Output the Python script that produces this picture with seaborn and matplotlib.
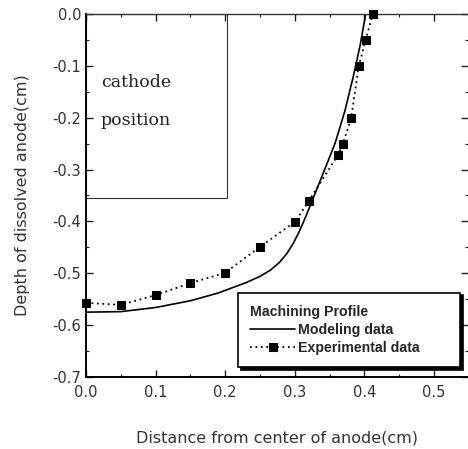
import matplotlib
matplotlib.use("Agg")
import matplotlib.pyplot as plt
import seaborn as sns
import pandas as pd
from matplotlib.patches import Rectangle
from matplotlib.ticker import MultipleLocator

# ---- data ----
model_x = [0.0, 0.05, 0.10, 0.15, 0.19, 0.21, 0.23, 0.25, 0.265, 0.278, 0.288, 0.298, 0.307,
           0.316, 0.325, 0.34, 0.358, 0.372, 0.384, 0.394, 0.402]
model_y = [-0.575, -0.574, -0.566, -0.553, -0.538, -0.528, -0.518, -0.506, -0.494, -0.479,
           -0.463, -0.442, -0.418, -0.390, -0.360, -0.310, -0.249, -0.187, -0.121, -0.060, 0.0]

exp_x = [0.0, 0.05, 0.10, 0.15, 0.20, 0.25, 0.30, 0.32, 0.362, 0.369, 0.381, 0.392, 0.402, 0.412]
exp_y = [-0.557, -0.561, -0.542, -0.519, -0.499, -0.449, -0.401, -0.361, -0.272, -0.251, -0.201, -0.100, -0.050, 0.0]

cathode_x = [0.0, 0.203]
cathode_y = [-0.355, 0.0]
cathode_text = ["cathode", "position"]

x_ticks = [0.0, 0.1, 0.2, 0.3, 0.4, 0.5]
y_ticks = [0.0, -0.1, -0.2, -0.3, -0.4, -0.5, -0.6, -0.7]

model_label = "Modeling data"
exp_label = "Experimental data"
legend_title = "Machining Profile"
x_label = "Distance from center of anode(cm)"
y_label = "Depth of dissolved anode(cm)"

# ---- figure ----
sns.set_theme(style="ticks")
plt.rcParams["font.family"] = ["DejaVu Sans"]

fig = plt.figure(figsize=(4.68, 4.49), dpi=100)
ax = fig.add_axes([0.184, 0.1604, 0.816, 0.8085])

model_df = pd.DataFrame({"x": model_x, "y": model_y})
exp_df = pd.DataFrame({"x": exp_x, "y": exp_y})

sns.lineplot(data=model_df, x="x", y="y", ax=ax, color="black", linewidth=1.2,
             sort=False, label=model_label)
sns.lineplot(data=exp_df, x="x", y="y", ax=ax, color="black", linewidth=1.3,
             linestyle=(0, (1, 2)), marker="s", markersize=6, markeredgecolor="black",
             markerfacecolor="black", sort=False, label=exp_label, clip_on=False, zorder=5)

# cathode position box
ax.add_patch(Rectangle((cathode_x[0], cathode_y[0]), cathode_x[1] - cathode_x[0],
                       cathode_y[1] - cathode_y[0], fill=False, edgecolor="#333333",
                       linewidth=0.8, zorder=1))
ax.text(0.021, -0.133, cathode_text[0], family="DejaVu Serif", fontsize=12.5,
        va="center", ha="left", color="#222222")
ax.text(0.021, -0.205, cathode_text[1], family="DejaVu Serif", fontsize=12.5,
        va="center", ha="left", color="#222222")

ax.set_xlim(0, 0.549)
ax.set_ylim(-0.7, 0.0)
ax.set_xticks(x_ticks)
ax.set_yticks(y_ticks)
ax.set_xticklabels([f"{v:.1f}" for v in x_ticks])
ax.set_yticklabels([f"{v:.1f}" if v != 0 else "0.0" for v in y_ticks])
ax.xaxis.set_minor_locator(MultipleLocator(0.05))
ax.yaxis.set_minor_locator(MultipleLocator(0.05))
ax.tick_params(which="both", direction="in", top=True, right=True, colors="#222222",
               labelsize=10.5, labelcolor="#333333")
ax.tick_params(which="major", length=5, width=1)
ax.tick_params(which="minor", length=2.5, width=0.8)
ax.tick_params(axis="x", pad=6)

for side in ["left", "bottom"]:
    ax.spines[side].set_linewidth(1.4)
    ax.spines[side].set_color("black")
ax.spines["top"].set_linewidth(1.0)
ax.spines["top"].set_color("#333333")
ax.spines["right"].set_linewidth(0.6)
ax.spines["right"].set_color("#888888")
ax.spines["right"].set_linestyle((0, (6, 3)))

ax.set_xlabel(x_label, fontsize=11.5, color="#333333", labelpad=22)
ax.set_ylabel(y_label, fontsize=11.5, color="#333333", labelpad=16)

leg = ax.legend(title=legend_title, loc="lower left", bbox_to_anchor=(0.398, 0.027, 0.581, 0.21),
                mode="expand", frameon=True, fancybox=False, edgecolor="black",
                framealpha=1, shadow={"color": "black", "alpha": 1},
                prop={"family": "Liberation Sans", "weight": "bold", "size": 10.2},
                title_fontproperties={"family": "Liberation Sans", "weight": "bold", "size": 10.2},
                alignment="left", handlelength=3.2, handletextpad=0.15, borderpad=0.85,
                labelspacing=0.3, borderaxespad=0)
leg.get_frame().set_linewidth(1.2)

fig.savefig("out.png", dpi=100)
